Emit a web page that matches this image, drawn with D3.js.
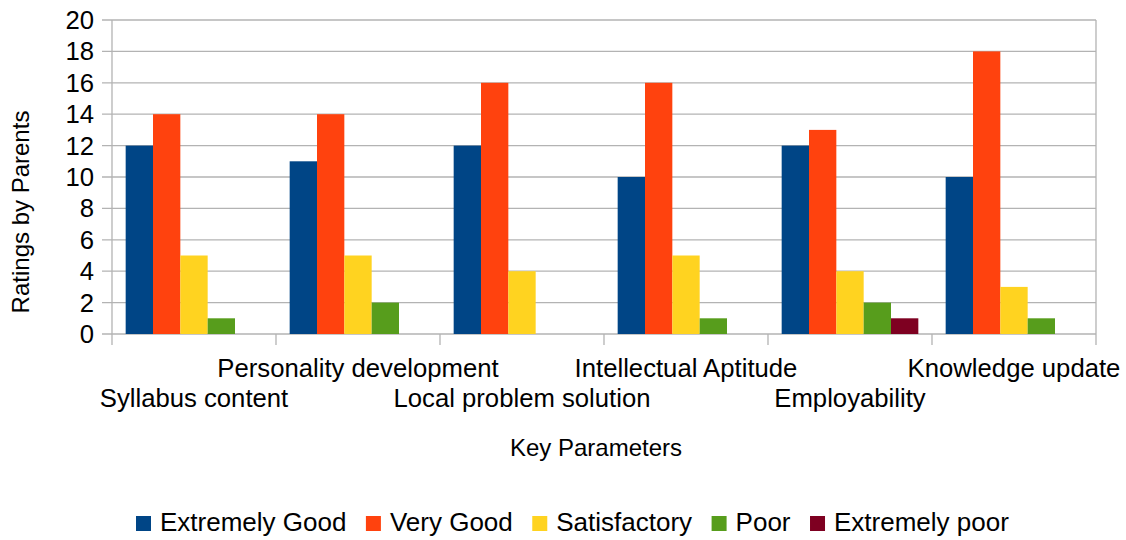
<!DOCTYPE html>
<html>
<head>
<meta charset="utf-8">
<script src="https://cdn.jsdelivr.net/npm/d3@7"></script>
<style>
body { margin: 0; background: #fff; }
text { font-family: "Liberation Sans", Arial, sans-serif; fill: #000; }
.tick-label { font-size: 25.7px; }
.title { font-size: 24px; }
.legend text { font-size: 26px; }
</style>
</head>
<body>
<script>
//Data
const categories = ["Syllabus content", "Personality development", "Local problem solution",
    "Intellectual Aptitude", "Employability", "Knowledge update"];
const seriesNames = ["Extremely Good", "Very Good", "Satisfactory", "Poor", "Extremely poor"];
const extremelyGood = [12, 11, 12, 10, 12, 10];
const veryGood = [14, 14, 16, 16, 13, 18];
const satisfactory = [5, 5, 4, 5, 4, 3];
const poor = [1, 2, 0, 1, 2, 1];
const extremelyPoor = [0, 0, 0, 0, 1, 0];
const yTicks = [0, 2, 4, 6, 8, 10, 12, 14, 16, 18, 20];
const colors = ["#004586", "#ff420e", "#ffd320", "#579d1c", "#7e0021"];

const seriesValues = [extremelyGood, veryGood, satisfactory, poor, extremelyPoor];

//Layout
const width = 1126, height = 540;
const plotLeft = 112, plotRight = 1096, plotTop = 20, plotBottom = 334;

const svg = d3.select("body").append("svg")
    .attr("width", width)
    .attr("height", height);

//Scales
const xScale = d3.scaleBand()
    .domain(categories)
    .range([plotLeft, plotRight])
    .padding(0);

const bw = xScale.bandwidth();
const xInner = d3.scaleBand()
    .domain(seriesNames)
    .range([bw / 12, bw * 11 / 12])
    .padding(0);

const yScale = d3.scaleLinear()
    .domain([0, 20])
    .range([plotBottom, plotTop]);

//Gridlines and y ticks
svg.append("g")
    .selectAll("line")
    .data(yTicks)
    .join("line")
    .attr("x1", plotLeft - 10)
    .attr("x2", plotRight)
    .attr("y1", d => yScale(d))
    .attr("y2", d => yScale(d))
    .attr("stroke", "#b3b3b3")
    .attr("stroke-width", 1.3);

svg.append("g")
    .selectAll("text")
    .data(yTicks)
    .join("text")
    .attr("class", "tick-label")
    .attr("x", plotLeft - 18)
    .attr("y", d => yScale(d) + 9)
    .attr("text-anchor", "end")
    .text(d => d);

//Plot borders (left and right)
[plotLeft, plotRight].forEach(x => {
    svg.append("line")
        .attr("x1", x).attr("x2", x)
        .attr("y1", plotTop).attr("y2", plotBottom)
        .attr("stroke", "#b3b3b3")
        .attr("stroke-width", 1.3);
});

//X ticks at category boundaries
const boundaries = categories.map(c => xScale(c)).concat([plotRight]);
svg.append("g")
    .selectAll("line")
    .data(boundaries)
    .join("line")
    .attr("x1", d => d).attr("x2", d => d)
    .attr("y1", plotBottom).attr("y2", plotBottom + 11)
    .attr("stroke", "#b3b3b3")
    .attr("stroke-width", 1.3);

//Bars
seriesValues.forEach((vals, si) => {
    svg.append("g")
        .selectAll("rect")
        .data(vals.map((v, i) => ({cat: categories[i], v: v})))
        .join("rect")
        .attr("x", d => xScale(d.cat) + xInner(seriesNames[si]))
        .attr("width", xInner.bandwidth())
        .attr("y", d => yScale(d.v))
        .attr("height", d => yScale(0) - yScale(d.v))
        .attr("fill", colors[si]);
});

//Category labels (staggered)
svg.append("g")
    .selectAll("text")
    .data(categories)
    .join("text")
    .attr("class", "tick-label")
    .attr("x", d => xScale(d) + bw / 2)
    .attr("y", (d, i) => i % 2 === 0 ? 407 : 377)
    .attr("text-anchor", "middle")
    .text(d => d);

//Axis titles
svg.append("text")
    .attr("class", "title")
    .attr("x", 596)
    .attr("y", 456)
    .attr("text-anchor", "middle")
    .text("Key Parameters");

svg.append("text")
    .attr("class", "title")
    .attr("transform", "translate(29," + ((plotTop + plotBottom) / 2 + 35) + ") rotate(-90)")
    .attr("text-anchor", "middle")
    .text("Ratings by Parents");

//Legend
const legend = svg.append("g").attr("class", "legend");
let lx = 136;
seriesNames.forEach((name, i) => {
    legend.append("rect")
        .attr("x", lx)
        .attr("y", 516)
        .attr("width", 15)
        .attr("height", 15)
        .attr("fill", colors[i]);
    const t = legend.append("text")
        .attr("x", lx + 24)
        .attr("y", 531)
        .text(name);
    lx += 24 + t.node().getComputedTextLength() + 19.5;
});
</script>
</body>
</html>
